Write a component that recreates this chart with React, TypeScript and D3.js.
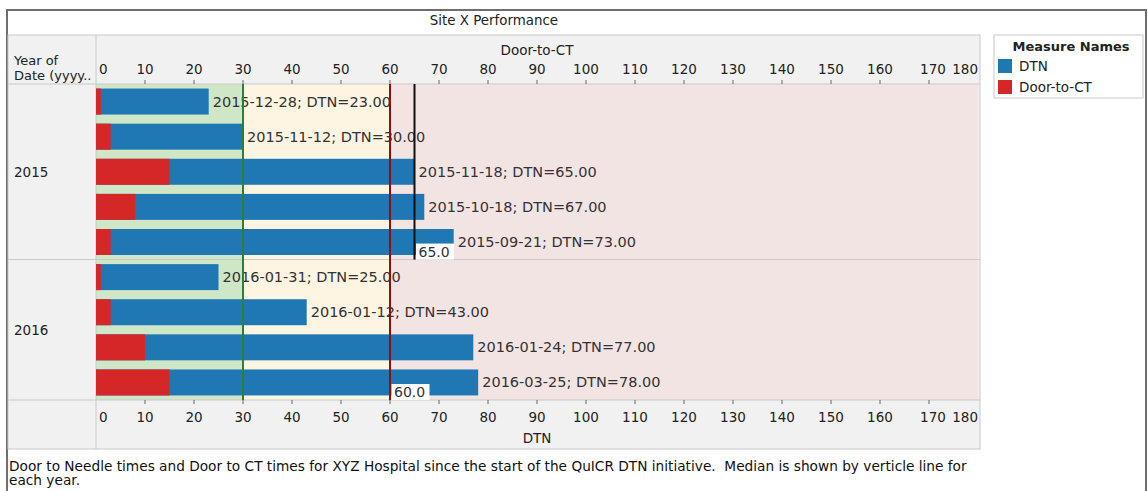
import { useRef, useEffect } from 'react';
import * as d3 from 'd3';

// chart data
const years = ['2015', '2016'];
const rowYears = ['2015', '2015', '2015', '2015', '2015', '2016', '2016', '2016', '2016'];
const rowDates = [
  '2015-12-28', '2015-11-12', '2015-11-18', '2015-10-18', '2015-09-21',
  '2016-01-31', '2016-01-12', '2016-01-24', '2016-03-25',
];
const dtnValues = [23, 30, 65, 67, 73, 25, 43, 77, 78];
const doorToCtValues = [1, 3, 15, 8, 3, 1, 3, 10, 15];
const yearMedians = [65, 60];
const axisTicks = [0, 10, 20, 30, 40, 50, 60, 70, 80, 90, 100, 110, 120, 130, 140, 150, 160, 170, 180];
const bandEdges = [0, 30, 60, 180];
const refLines = [30, 60];
const legendNames = ['DTN', 'Door-to-CT'];
const captionLines = [
  'Door to Needle times and Door to CT times for XYZ Hospital since the start of the QuICR DTN initiative.  Median is shown by verticle line for',
  'each year.',
];

const FONT = '"DejaVu Sans", sans-serif';

const App = () => {
  const svgRef = useRef(null);
  const width = 1148;
  const height = 491;

  useEffect(() => {
    const svg = d3.select(svgRef.current);
    svg.selectAll('*').remove();

    const plotLeft = 96;
    const plotRight = 978;
    const plotTop = 84;
    const plotBottom = 400;
    const panelLeft = 8;
    const panelRight = 980;
    const panelTop = 35;
    const panelBottom = 449;

    const x = d3.scaleLinear().domain([0, 180]).range([plotLeft, plotRight]);
    const y = d3
      .scaleBand<number>()
      .domain(d3.range(rowDates.length))
      .range([plotTop, plotBottom])
      .paddingInner(0.26)
      .paddingOuter(0.13);

    const bandColors = ['#cfe6c7', '#fdf5e1', '#f3e4e4'];
    const seriesColors = ['#1f77b4', '#d62728'];
    const refColors = ['#2e7d3c', '#8b1010'];

    // outer frame
    svg.append('rect')
      .attr('x', 7).attr('y', 10).attr('width', 1139).attr('height', 490)
      .attr('fill', 'white').attr('stroke', '#6e6e6e').attr('stroke-width', 2);

    // title
    svg.append('text')
      .attr('x', 494).attr('y', 25)
      .attr('text-anchor', 'middle')
      .attr('font-family', FONT).attr('font-size', 13.4).attr('fill', '#222')
      .text('Site X Performance');

    // header / row header / footer backgrounds
    svg.append('rect')
      .attr('x', panelLeft).attr('y', panelTop)
      .attr('width', panelRight - panelLeft).attr('height', panelBottom - panelTop)
      .attr('fill', '#f1f1f1');

    // pane year groups
    const paneBounds = years.map((yr) => {
      const idx = rowYears.map((r, i) => (r === yr ? i : -1)).filter((i) => i >= 0);
      const first = idx[0];
      const last = idx[idx.length - 1];
      const top = first === 0 ? plotTop : (y(first)! + y(first - 1)! + y.bandwidth()) / 2;
      const bottom = last === rowDates.length - 1
        ? plotBottom
        : (y(last)! + y.bandwidth() + y(last + 1)!) / 2;
      return { yr, top, bottom };
    });

    // background bands
    for (let i = 0; i < bandEdges.length - 1; i++) {
      svg.append('rect')
        .attr('x', x(bandEdges[i])).attr('y', plotTop)
        .attr('width', x(bandEdges[i + 1]) - x(bandEdges[i]))
        .attr('height', plotBottom - plotTop)
        .attr('fill', bandColors[i]);
    }

    // grid lines of the table
    const lineColor = '#c9c9c9';
    const hLines = [plotTop, plotBottom, ...paneBounds.slice(1).map((p) => p.top)];
    hLines.forEach((yy) => {
      svg.append('line')
        .attr('x1', panelLeft).attr('x2', panelRight)
        .attr('y1', yy).attr('y2', yy)
        .attr('stroke', lineColor).attr('stroke-width', 1);
    });
    svg.append('line')
      .attr('x1', plotLeft).attr('x2', plotLeft)
      .attr('y1', panelTop).attr('y2', panelBottom)
      .attr('stroke', lineColor);
    svg.append('rect')
      .attr('x', panelLeft).attr('y', panelTop)
      .attr('width', panelRight - panelLeft).attr('height', panelBottom - panelTop)
      .attr('fill', 'none').attr('stroke', lineColor);

    // header text
    svg.append('text')
      .attr('font-family', FONT).attr('font-size', 13).attr('fill', '#222')
      .selectAll('tspan')
      .data(['Year of', 'Date (yyyy..'])
      .join('tspan')
      .attr('x', 14)
      .attr('y', (_, i) => 65 + i * 15)
      .text((d) => d);

    // row headers
    paneBounds.forEach((p) => {
      svg.append('text')
        .attr('x', 14).attr('y', (p.top + p.bottom) / 2 + 5)
        .attr('font-family', FONT).attr('font-size', 13.5).attr('fill', '#222')
        .text(p.yr);
    });

    // axes (top = Door-to-CT, bottom = DTN)
    const drawAxis = (tickY1: number, tickY2: number, labelY: number) => {
      axisTicks.forEach((t, i) => {
        if (i > 0 && i < axisTicks.length - 1) {
          svg.append('line')
            .attr('x1', x(t)).attr('x2', x(t))
            .attr('y1', tickY1).attr('y2', tickY2)
            .attr('stroke', '#666');
        }
        let anchor = 'middle';
        let lx = x(t);
        if (i === 0) { anchor = 'start'; lx = x(t) + 3; }
        if (i === axisTicks.length - 1) { anchor = 'end'; }
        if (i === axisTicks.length - 2) { lx = x(t) + 4; }
        svg.append('text')
          .attr('x', lx).attr('y', labelY)
          .attr('text-anchor', anchor)
          .attr('font-family', FONT).attr('font-size', 13.5).attr('fill', '#222')
          .text(String(t));
      });
    };
    drawAxis(plotTop - 4, plotTop, 74);
    drawAxis(plotBottom, plotBottom + 4, 422);

    svg.append('text')
      .attr('x', x(90)).attr('y', 55)
      .attr('text-anchor', 'middle')
      .attr('font-family', FONT).attr('font-size', 13.5).attr('fill', '#222')
      .text('Door-to-CT');
    svg.append('text')
      .attr('x', x(90)).attr('y', 443)
      .attr('text-anchor', 'middle')
      .attr('font-family', FONT).attr('font-size', 13.5).attr('fill', '#222')
      .text('DTN');

    // bars: DTN, then Door-to-CT over it
    const rows = d3.range(rowDates.length);
    svg.append('g')
      .selectAll('rect')
      .data(rows)
      .join('rect')
      .attr('x', x(0))
      .attr('y', (i) => y(i)!)
      .attr('width', (i) => x(dtnValues[i]) - x(0))
      .attr('height', y.bandwidth())
      .attr('fill', seriesColors[0]);
    svg.append('g')
      .selectAll('rect')
      .data(rows)
      .join('rect')
      .attr('x', x(0))
      .attr('y', (i) => y(i)!)
      .attr('width', (i) => x(doorToCtValues[i]) - x(0))
      .attr('height', y.bandwidth())
      .attr('fill', seriesColors[1]);

    // bar labels
    svg.append('g')
      .selectAll('text')
      .data(rows)
      .join('text')
      .attr('x', (i) => x(dtnValues[i]) + 4)
      .attr('y', (i) => y(i)! + y.bandwidth() / 2 + 5)
      .attr('font-family', FONT).attr('font-size', 14.5).attr('fill', '#333')
      .text((i) => `${rowDates[i]}; DTN=${dtnValues[i].toFixed(2)}`);

    // median lines per year
    paneBounds.forEach((p, i) => {
      const m = yearMedians[i];
      svg.append('line')
        .attr('x1', x(m)).attr('x2', x(m))
        .attr('y1', p.top).attr('y2', p.bottom)
        .attr('stroke', '#111').attr('stroke-width', 2);
    });

    // reference lines
    refLines.forEach((r, i) => {
      svg.append('line')
        .attr('x1', x(r)).attr('x2', x(r))
        .attr('y1', plotTop).attr('y2', plotBottom)
        .attr('stroke', refColors[i]).attr('stroke-width', 2);
    });

    // median labels
    paneBounds.forEach((p, i) => {
      const m = yearMedians[i];
      svg.append('rect')
        .attr('x', x(m) + 1.5).attr('y', p.bottom - 16)
        .attr('width', 38).attr('height', 16)
        .attr('fill', 'white');
      svg.append('text')
        .attr('x', x(m) + 4).attr('y', p.bottom - 3)
        .attr('font-family', FONT).attr('font-size', 14).attr('fill', '#333')
        .text(m.toFixed(1));
    });

    // legend
    const lg = svg.append('g');
    lg.append('rect')
      .attr('x', 994).attr('y', 35).attr('width', 149).attr('height', 63)
      .attr('fill', 'white').attr('stroke', '#c9c9c9');
    lg.append('text')
      .attr('x', 1071).attr('y', 51)
      .attr('text-anchor', 'middle')
      .attr('font-family', FONT).attr('font-size', 13).attr('font-weight', 'bold').attr('fill', '#222')
      .text('Measure Names');
    legendNames.forEach((name, i) => {
      lg.append('rect')
        .attr('x', 998).attr('y', 59 + i * 21).attr('width', 14).attr('height', 14)
        .attr('fill', seriesColors[i]);
      lg.append('text')
        .attr('x', 1019).attr('y', 71 + i * 21)
        .attr('font-family', FONT).attr('font-size', 13.5).attr('fill', '#222')
        .text(name);
    });

    // caption
    svg.append('text')
      .attr('font-family', FONT).attr('font-size', 13.7).attr('fill', '#111')
      .style('white-space', 'pre')
      .selectAll('tspan')
      .data(captionLines)
      .join('tspan')
      .attr('x', 9)
      .attr('y', (_, i) => 471 + i * 14)
      .text((d) => d);
  }, []);

  return (
    <svg
      ref={svgRef}
      width={width}
      height={height}
      style={{ position: 'absolute', left: 0, top: 0, background: 'white' }}
    />
  );
};

export default App;
